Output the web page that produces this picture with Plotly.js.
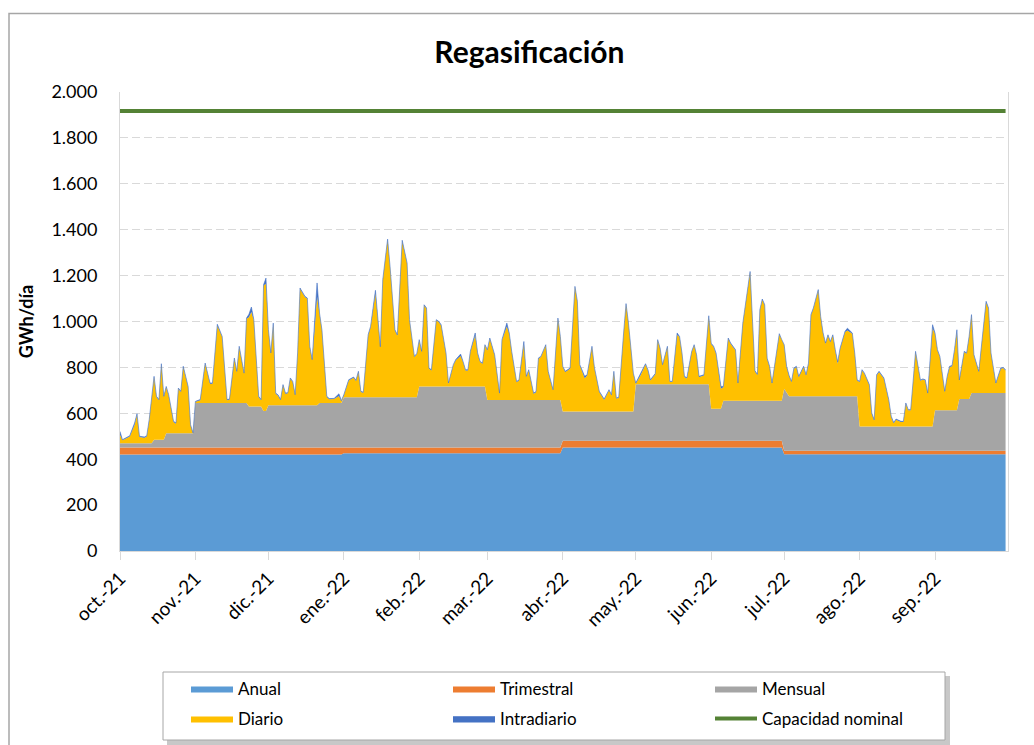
<!DOCTYPE html>
<html>
<head>
<meta charset="utf-8">
<script src="https://cdn.plot.ly/plotly-3.0.1.min.js"></script>
<style>
  html, body { margin: 0; padding: 0; background: #fff; }
  #chart { width: 1034px; height: 745px; }
</style>
</head>
<body>
<div id="chart"></div>
<script>
// ---- Data (day offsets from 1 Oct 2021) ----
const startDate = [2021, 9, 1];

const monthTickDays = [0, 31, 61, 92, 123, 151, 182, 212, 243, 273, 304, 335];
const monthTickLabels = ['oct.-21', 'nov.-21', 'dic.-21', 'ene.-22', 'feb.-22', 'mar.-22',
                         'abr.-22', 'may.-22', 'jun.-22', 'jul.-22', 'ago.-22', 'sep.-22'];

// Anual / Trimestral (quarterly steps)
const quarterDays = [0, 91, 92, 181, 182, 272, 273, 364];
const anualValues = [421, 421, 426, 426, 451, 451, 422, 422];
const trimestralValues = [30, 30, 25, 25, 29, 29, 15, 15];

// Mensual (steps)
const mensualDays = [0, 13, 14, 18, 19, 30, 31, 52, 53, 58, 59, 60, 61, 81, 82, 91, 92, 122,
                     123, 150, 151, 181, 182, 211, 212, 242, 243, 247, 248, 272, 273, 274, 275, 303,
                     304, 334, 335, 344, 345, 349, 350, 364];
const mensualValues = [19, 19, 34, 34, 62, 62, 194, 194, 179, 179, 159, 159, 184, 184, 194, 194, 219, 219,
                       266, 266, 207, 207, 128, 128, 247, 247, 140, 140, 175, 175, 270, 250, 237, 237,
                       106, 106, 176, 176, 225, 225, 251, 251];

// Diario / Intradiario (daily vertices)
const dailyDays = [0, 1, 4, 6, 7, 8, 10, 11, 12, 14, 15, 16, 17, 18, 19, 20, 22, 23, 24, 25, 26, 28, 29, 30,
  31, 33, 35, 37, 38, 40, 42, 44, 45, 47, 48, 49, 51, 52, 54, 55, 57, 58, 59, 60,
  61, 62, 63, 64, 65, 66, 67, 68, 69, 70, 71, 72, 73, 74, 76, 77, 78, 79, 81, 82, 83, 85, 86, 88, 90, 91,
  92, 94, 96, 97, 98, 99, 100, 102, 103, 105, 107, 108, 110, 111, 113, 114, 115, 116, 118, 119, 121,
  123, 124, 125, 126, 127, 128, 130, 131, 132, 134, 135, 137, 138, 140, 141, 142, 143, 144, 146, 147, 148, 149, 150,
  151, 152, 154, 156, 157, 159, 160, 161, 162, 163, 164, 166, 167, 168, 170, 171, 172, 173, 175, 176, 178, 180,
  182, 183, 185, 187, 188, 189, 191, 192, 194, 195, 196, 197, 199, 201, 202, 203, 204, 205, 207, 208, 209, 211,
  212, 214, 216, 217, 218, 220, 221, 222, 223, 225, 226, 227, 229, 230, 231, 232, 233, 235, 236, 237, 238, 240, 242,
  244, 245, 247, 248, 250, 251, 253, 254, 256, 259, 261, 262, 263, 264, 265, 266, 267, 268, 271, 272,
  274, 276, 277, 278, 279, 281, 282, 283, 284, 285, 287, 288, 289, 290, 291, 292, 293, 294, 295, 296, 298, 299, 301, 302, 303,
  304, 305, 306, 308, 309, 310, 311, 312, 314, 316, 317, 318, 319, 321, 322, 323, 324, 325, 326, 327, 329, 330, 331, 332, 334,
  335, 336, 337, 339, 340, 341, 342, 343, 344, 345, 347, 348, 350, 351, 353, 354, 356, 357, 358, 360, 361, 362, 363, 364];

const diarioValues = [37, 13, 29, 80, 125, 27, 24, 29, 99, 273, 186, 172, 328, 186, 201, 165, 49, 42, 194, 180, 289, 201, 34, 0,
  5, 12, 171, 84, 84, 338, 287, 12, 14, 193, 135, 244, 127, 367, 411, 375, 41, 27, 547, 555,
  326, 225, 355, 50, 42, 22, 87, 50, 52, 116, 101, 43, 225, 508, 472, 464, 254, 196, 473, 389, 316, 26, 16, 17, 30, 7,
  8, 73, 85, 71, 110, 23, 19, 269, 306, 454, 217, 509, 684, 567, 291, 269, 487, 679, 582, 335, 175,
  201, 150, 353, 339, 77, 70, 288, 281, 266, 143, 12, 92, 114, 133, 106, 70, 70, 150, 223, 143, 106, 99, 179,
  216, 267, 194, 27, 260, 320, 289, 209, 144, 78, 84, 245, 100, 129, 27, 34, 180, 187, 238, 122, 42, 354,
  194, 172, 186, 542, 477, 201, 145, 157, 281, 189, 139, 85, 51, 92, 70, 172, 56, 59, 339, 467, 382, 164,
  2, 40, 86, 60, 16, 43, 191, 154, 82, 162, 9, 9, 215, 205, 133, 31, 25, 140, 169, 125, 31, 38, 295,
  269, 240, 87, 59, 270, 248, 219, 74, 335, 560, 127, 112, 393, 440, 415, 182, 147, 74, 289, 263,
  115, 62, 120, 128, 84, 128, 91, 142, 353, 382, 462, 345, 273, 229, 265, 236, 265, 200, 142, 207, 280, 287, 273, 186, 69,
  193, 244, 229, 179, 55, 26, 222, 237, 208, 113, 41, 14, 29, 19, 19, 99, 70, 70, 194, 324, 199, 204, 200, 142, 428,
  334, 261, 232, 80, 145, 189, 192, 261, 341, 80, 205, 198, 339, 164, 92, 201, 395, 368, 172, 41, 77, 106, 109, 99];

const intradiarioValues = [14, 2, 3, 8, 3, 3, 3, 3, 3, 3, 3, 3, 3, 3, 3, 3, 3, 3, 3, 3, 3, 3, 3, 2,
  2, 3, 3, 3, 3, 5, 3, 3, 3, 3, 3, 3, 3, 3, 22, 3, 3, 3, 3, 24,
  3, 3, 3, 3, 3, 3, 3, 3, 3, 3, 3, 3, 3, 3, 3, 3, 3, 3, 60, 3, 3, 3, 3, 3, 10, 3,
  3, 3, 3, 3, 3, 3, 3, 3, 3, 12, 3, 3, 5, 3, 3, 3, 3, 5, 3, 3, 3,
  3, 3, 3, 3, 3, 3, 3, 3, 3, 3, 3, 3, 3, 8, 3, 3, 3, 3, 10, 3, 3, 3, 3,
  3, 3, 3, 3, 3, 15, 3, 3, 3, 3, 3, 10, 3, 3, 3, 3, 3, 3, 3, 3, 3, 3,
  3, 3, 3, 3, 3, 3, 8, 3, 3, 3, 3, 3, 3, 3, 3, 3, 3, 3, 3, 3, 3, 3,
  3, 8, 3, 3, 3, 3, 3, 3, 3, 3, 3, 3, 8, 3, 3, 3, 3, 3, 3, 3, 3, 3, 3,
  3, 3, 10, 3, 3, 3, 3, 3, 3, 3, 3, 3, 3, 3, 3, 3, 3, 3, 3, 3,
  3, 3, 3, 3, 3, 3, 3, 3, 3, 3, 3, 3, 3, 3, 3, 3, 3, 3, 8, 3, 3, 10, 3, 3, 3,
  3, 3, 3, 3, 3, 3, 3, 3, 3, 3, 3, 3, 3, 3, 3, 3, 3, 3, 3, 3, 3, 3, 3, 3, 15,
  3, 3, 3, 3, 3, 3, 3, 3, 10, 3, 3, 3, 3, 3, 3, 3, 5, 3, 3, 3, 3, 3, 3, 3];

// Capacidad nominal
const capacidadDays = [0, 364];
const capacidadValues = [1917, 1917];

// ---- Helpers ----
function toDate(d) {
  return new Date(Date.UTC(startDate[0], startDate[1], startDate[2] + d)).toISOString().slice(0, 10);
}
const dates = arr => arr.map(toDate);

const FONT = 'Lato, "Open Sans", sans-serif';

const traces = [
  { name: 'Anual', legend: 'legend', x: dates(quarterDays), y: anualValues, stackgroup: 'one', stackgaps: 'interpolate',
    mode: 'lines', line: { width: 0, color: '#5B9BD5' }, fillcolor: '#5B9BD5' },
  { name: 'Trimestral', legend: 'legend', x: dates(quarterDays), y: trimestralValues, stackgroup: 'one',
    mode: 'lines', line: { width: 0, color: '#ED7D31' }, fillcolor: '#ED7D31' },
  { name: 'Mensual', legend: 'legend', x: dates(mensualDays), y: mensualValues, stackgroup: 'one',
    mode: 'lines', line: { width: 0, color: '#A5A5A5' }, fillcolor: '#A5A5A5' },
  { name: 'Diario', legend: 'legend2', x: dates(dailyDays), y: diarioValues, stackgroup: 'one',
    mode: 'lines', line: { width: 0, color: '#FFC000' }, fillcolor: '#FFC000' },
  { name: 'Intradiario', legend: 'legend2', x: dates(dailyDays), y: intradiarioValues, stackgroup: 'one',
    mode: 'lines', line: { width: 0.6, color: '#4472C4' }, fillcolor: '#4472C4' },
  { name: 'Capacidad nominal', legend: 'legend2', x: dates(capacidadDays), y: capacidadValues, type: 'scatter',
    mode: 'lines', line: { width: 4, color: '#548235' } }
];

const px = v => (v - 120) / 888;   // pixel -> paper x
const py = v => (551 - v) / 459;   // pixel -> paper y

const legendCommon = {
  orientation: 'h', xref: 'container', yref: 'container', xanchor: 'left', yanchor: 'top',
  x: 186 / 1034,
  entrywidth: 205, entrywidthmode: 'pixels', itemwidth: 42,
  bgcolor: 'rgba(0,0,0,0)', borderwidth: 0, traceorder: 'normal',
  font: { family: FONT, size: 17, color: '#000' }
};

const layout = {
  width: 1034, height: 745,
  margin: { l: 120, r: 26, t: 92, b: 194 },
  paper_bgcolor: '#ffffff', plot_bgcolor: '#ffffff',
  separators: ',.',
  font: { family: FONT, size: 17, color: '#000' },
  showlegend: true,
  hovermode: false,
  title: { text: '<b>Regasificación</b>', font: { family: FONT, size: 30, color: '#000' },
           x: 0.512, xref: 'container', xanchor: 'center', y: 1 - 52 / 745, yref: 'container', yanchor: 'middle' },
  xaxis: {
    type: 'date', automargin: false,
    range: [toDate(0), toDate(365)],
    tickvals: dates(monthTickDays),
    ticktext: monthTickLabels,
    tickangle: -45,
    ticks: 'outside', ticklen: 8, tickcolor: '#d9d9d9', tickwidth: 1,
    showline: true, linecolor: '#d9d9d9', linewidth: 1,
    showgrid: false, zeroline: false,
    tickfont: { family: FONT, size: 19, color: '#000' }
  },
  yaxis: {
    automargin: false,
    range: [0, 2000],
    tickvals: [0, 200, 400, 600, 800, 1000, 1200, 1400, 1600, 1800, 2000],
    tickformat: ',.0f',
    showline: true, linecolor: '#d9d9d9', linewidth: 1, mirror: true,
    showgrid: true, gridcolor: '#d9d9d9', griddash: '8px,4px', gridwidth: 1,
    zeroline: false,
    ticks: '', ticklabelstandoff: 18,
    tickfont: { family: FONT, size: 18, color: '#000' },
    title: { text: '<b>GWh/día</b>', font: { family: FONT, size: 18, color: '#000' }, standoff: 13 }
  },
  legend: Object.assign({}, legendCommon, { y: 1 - 671 / 745 }),
  legend2: Object.assign({}, legendCommon, { y: 1 - 701 / 745 }),
  shapes: [
    // outer chart frame
    { type: 'rect', xref: 'paper', yref: 'paper', x0: px(9), x1: px(1100), y0: py(13.5), y1: py(800),
      line: { color: '#a6a6a6', width: 1.5 }, fillcolor: 'rgba(0,0,0,0)', layer: 'below' },
    // legend shadow
    { type: 'rect', xref: 'paper', yref: 'paper', x0: px(167), x1: px(950), y0: py(676), y1: py(745),
      line: { width: 0 }, fillcolor: '#c8c8c8', layer: 'above' },
    // legend box
    { type: 'rect', xref: 'paper', yref: 'paper', x0: px(163), x1: px(945), y0: py(672), y1: py(740),
      line: { color: '#a6a6a6', width: 1 }, fillcolor: '#ffffff', layer: 'above' }
  ]
};

Plotly.newPlot('chart', traces, layout, { staticPlot: true, displayModeBar: false });
</script>
</body>
</html>
